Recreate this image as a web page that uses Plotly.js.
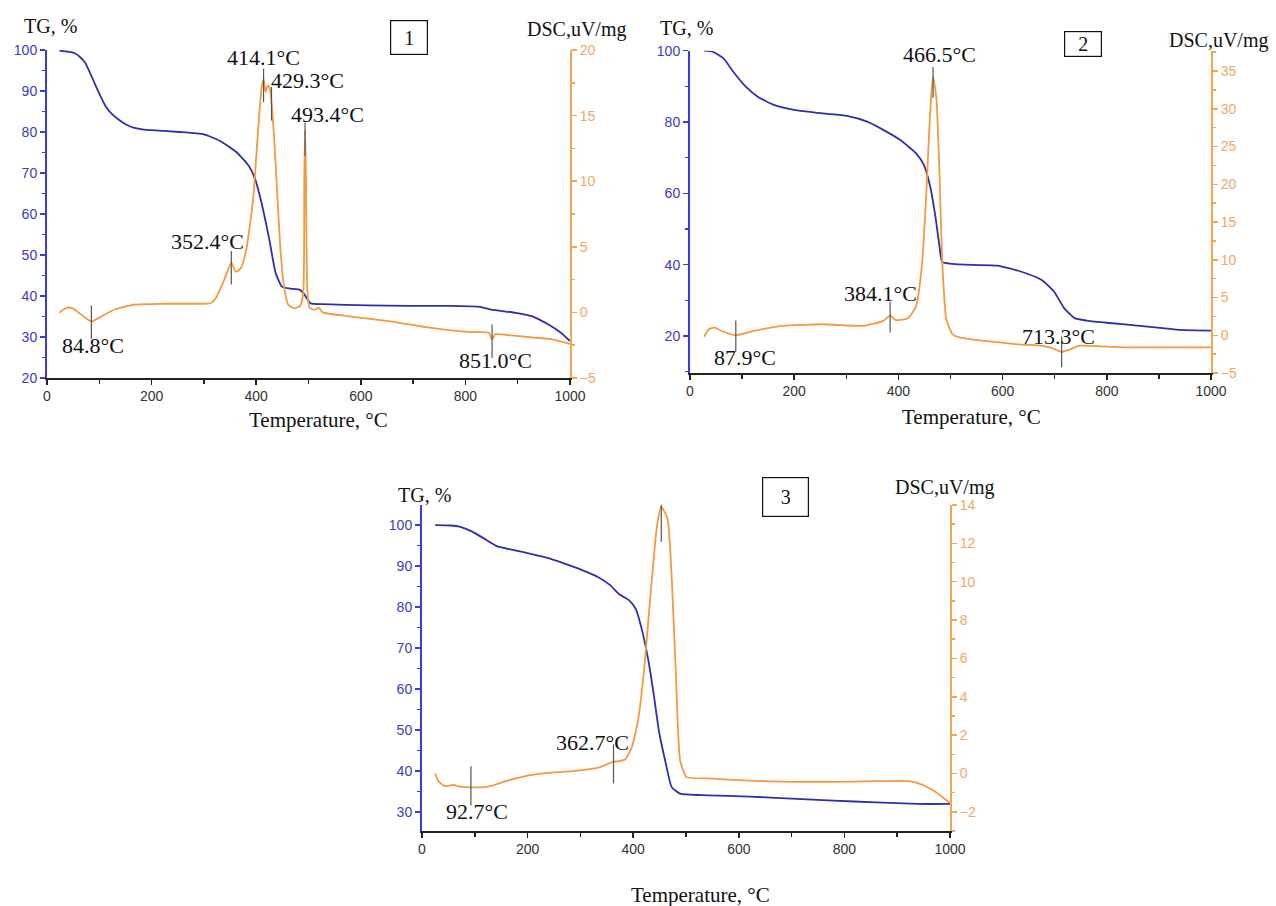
<!DOCTYPE html>
<html>
<head>
<meta charset="utf-8">
<script src="https://cdn.plot.ly/plotly-3.0.1.min.js"></script>
<style>html,body{margin:0;padding:0;background:#fff;}#chart{width:1276px;height:906px;}</style>
</head>
<body>
<div id="chart"></div>
<script>
// ---------- Sample 1 ----------
const tgTemp1 = [24, 40, 53, 63, 73, 82, 92, 102, 112, 124, 136, 150, 167, 185, 206, 253, 300, 331, 363, 386, 398, 410, 425, 437, 449, 465, 484, 492, 504, 527, 614, 692, 770, 825, 849, 896, 927, 958, 982, 1000];
const tg1 =     [99.8, 99.6, 99.2, 98.3, 96.9, 94.5, 91.6, 88.8, 86.3, 84.4, 83.1, 81.9, 81.0, 80.6, 80.4, 80.0, 79.4, 77.8, 75.0, 71.7, 68.5, 62.8, 53.8, 45.7, 42.3, 41.8, 41.5, 40.4, 38.2, 38.0, 37.7, 37.6, 37.6, 37.4, 36.7, 35.9, 35.1, 33.1, 31.1, 29.0];
const dscTemp1 = [24, 38, 49, 65, 84.8, 100, 128, 167, 222, 284, 312, 323, 339, 352.4, 361, 371, 382, 394, 400, 406, 410, 414.1, 418, 422, 426, 429.3, 434, 440, 446, 453, 461, 473, 484, 490, 492, 493.4, 495, 498, 502, 512, 520, 527, 574, 653, 731, 810, 845, 851, 857, 888, 927, 966, 1000];
const dsc1 =     [-0.02, 0.36, 0.3, -0.15, -0.7, -0.4, 0.2, 0.6, 0.66, 0.66, 0.7, 1.1, 2.5, 3.8, 3.1, 3.4, 5.0, 8.6, 11.8, 15.2, 17.0, 17.8, 16.8, 17.3, 17.1, 16.0, 13.5, 9.2, 5.0, 2.0, 0.6, 0.3, 0.5, 1.5, 10.5, 13.8, 10.5, 1.5, 0.35, 0.2, 0.36, 0.0, -0.28, -0.66, -1.16, -1.5, -1.55, -2.05, -1.67, -1.75, -1.9, -2.05, -2.4];
const peakTemp1 = [84.8, 352.4, 414.1, 429.3, 493.4, 851.0];
const peakDsc1 =  [-0.75, 3.4, 17.3, 15.9, 13.2, -2.2];

// ---------- Sample 2 ----------
const tgTemp2 = [27, 44, 64, 83, 107, 130, 161, 200, 255, 301, 340, 371, 403, 434, 449, 461, 471, 479, 484, 504, 543, 590, 636, 675, 699, 718, 738, 761, 800, 878, 940, 1000];
const tg2 =     [100, 99.7, 97.9, 94.1, 89.9, 87.1, 84.8, 83.4, 82.4, 81.7, 80.1, 77.8, 75.0, 71.2, 67.9, 61.9, 53.5, 45.0, 40.8, 40.2, 39.9, 39.7, 38.0, 35.7, 32.4, 27.8, 25.0, 24.3, 23.7, 22.6, 21.7, 21.5];
const dscTemp2 = [27, 36, 48, 60, 87.9, 122, 177, 255, 333, 371, 384.1, 395, 419, 434, 445, 453, 459, 463, 466.5, 473, 479, 484, 492, 504, 519, 566, 629, 675, 691, 713.3, 730, 745, 800, 839, 917, 1000];
const dsc2 =     [-0.2, 0.8, 1.0, 0.6, 0.0, 0.57, 1.24, 1.46, 1.24, 1.9, 2.6, 2.0, 2.3, 3.9, 9.2, 18.0, 26.9, 31.7, 34.3, 31.3, 21.1, 10.0, 2.1, 0.13, -0.3, -0.75, -1.2, -1.4, -1.6, -2.2, -1.86, -1.4, -1.5, -1.6, -1.6, -1.6];
const peakTemp2 = [87.9, 384.1, 466.5, 713.3];
const peakDsc2 =  [-0.1, 2.4, 33.5, -2.2];

// ---------- Sample 3 ----------
const tgTemp3 = [25, 55, 71, 95, 119, 143, 174, 206, 238, 270, 302, 334, 357, 373, 393, 405, 417, 429, 439, 449, 461, 473, 489, 541, 620, 700, 779, 859, 939, 1000];
const tg3 =     [100, 99.9, 99.6, 98.4, 96.6, 94.8, 93.9, 93.0, 92.0, 90.6, 89.1, 87.3, 85.3, 83.2, 81.6, 79.5, 74.2, 66.8, 58.6, 49.6, 42.3, 36.1, 34.5, 34.1, 33.8, 33.3, 32.8, 32.4, 32.0, 32.0];
const dscTemp3 = [25, 31, 43, 59, 75, 92.7, 115, 135, 150, 166, 186, 206, 238, 286, 334, 357, 362.7, 373, 385, 397, 409, 421, 433, 445, 453.2, 465, 473, 481, 489, 501, 541, 620, 700, 779, 859, 923, 947, 970, 1000];
const dsc3 =     [0.0, -0.4, -0.66, -0.6, -0.7, -0.72, -0.72, -0.62, -0.48, -0.33, -0.2, -0.09, 0.03, 0.12, 0.3, 0.56, 0.6, 0.65, 0.73, 1.34, 2.74, 5.5, 9.4, 12.9, 13.9, 13.3, 10.2, 5.0, 0.65, -0.19, -0.26, -0.37, -0.44, -0.44, -0.4, -0.4, -0.58, -0.92, -1.54];
const peakTemp3 = [92.7, 362.7, 453.2];
const peakDsc3 =  [-0.65, 0.5, 13.1];

// ---------- tick settings ----------
const xTicks = [0, 200, 400, 600, 800, 1000];

// ---------- layout helpers ----------
const W = 1276, H = 906;
const fx = p => p / W;
const fy = p => 1 - p / H;

const BLUE = '#2f2fae';
const BLUE_AX = '#3a3ae6';
const BLUE_TXT = '#3b3bc4';
const ORANGE = '#f29a3f';
const ORANGE_AX = '#f2a654';
const ORANGE_TXT = '#f0a862';
const SERIF = '"Liberation Serif", "Times New Roman", serif';
const SANS = 'Arial, "Liberation Sans", sans-serif';

function xAx(dom, anchor) {
  return {
    domain: dom, anchor: anchor, range: [0, 1000], tickvals: xTicks,
    ticks: 'outside', ticklen: 5, tickwidth: 1.5, tickcolor: '#222',
    minor: {dtick: 100, ticks: 'outside', ticklen: 4, tickcolor: '#222', tickwidth: 1.5, showgrid: false},
    showline: true, linecolor: '#222', linewidth: 1.5, showgrid: false, zeroline: false,
    tickfont: {family: SANS, size: 14, color: '#333'}, fixedrange: true
  };
}
function yLeft(dom, anchor, range, dtick, minorD) {
  return {
    domain: dom, anchor: anchor, range: range, dtick: dtick, tick0: 0,
    ticks: 'outside', ticklen: 5, tickwidth: 1.5, tickcolor: BLUE_AX,
    minor: {dtick: minorD, ticks: 'outside', ticklen: 3, tickcolor: BLUE_AX, tickwidth: 1.5, showgrid: false},
    showline: true, linecolor: BLUE_AX, linewidth: 2, showgrid: false, zeroline: false,
    tickfont: {family: SANS, size: 14, color: BLUE_TXT}, fixedrange: true
  };
}
function yRight(overlay, anchor, range, dtick, minorD) {
  return {
    overlaying: overlay, side: 'right', anchor: anchor, range: range, dtick: dtick, tick0: 0,
    ticks: 'outside', ticklen: 5, tickwidth: 1.5, tickcolor: ORANGE_AX,
    minor: {dtick: minorD, ticks: 'outside', ticklen: 3, tickcolor: ORANGE_AX, tickwidth: 1.5, showgrid: false},
    showline: true, linecolor: ORANGE_AX, linewidth: 2, showgrid: false, zeroline: false,
    tickfont: {family: SANS, size: 14, color: ORANGE_TXT}, fixedrange: true
  };
}

const lineTG = {color: BLUE, width: 1.8, shape: 'spline', smoothing: 0.5};
const lineDSC = {color: ORANGE, width: 1.8, shape: 'spline', smoothing: 0.5};

function peakMarks(xs, ys, xa, ya, size) {
  return {
    x: xs, y: ys, xaxis: xa, yaxis: ya, mode: 'markers', type: 'scatter', hoverinfo: 'skip',
    marker: {symbol: 'line-ns', size: size, color: '#555', line: {color: '#555', width: 1.2}}
  };
}

const data = [
  {x: tgTemp1, y: tg1, xaxis: 'x', yaxis: 'y', mode: 'lines', type: 'scatter', line: lineTG},
  {x: dscTemp1, y: dsc1, xaxis: 'x', yaxis: 'y2', mode: 'lines', type: 'scatter', line: lineDSC},
  peakMarks(peakTemp1, peakDsc1, 'x', 'y2', 24),
  {x: tgTemp2, y: tg2, xaxis: 'x2', yaxis: 'y3', mode: 'lines', type: 'scatter', line: lineTG},
  {x: dscTemp2, y: dsc2, xaxis: 'x2', yaxis: 'y4', mode: 'lines', type: 'scatter', line: lineDSC},
  peakMarks(peakTemp2, peakDsc2, 'x2', 'y4', 22),
  {x: tgTemp3, y: tg3, xaxis: 'x3', yaxis: 'y5', mode: 'lines', type: 'scatter', line: lineTG},
  {x: dscTemp3, y: dsc3, xaxis: 'x3', yaxis: 'y6', mode: 'lines', type: 'scatter', line: lineDSC},
  peakMarks(peakTemp3, peakDsc3, 'x3', 'y6', 28)
];

// Plot areas in pixels
const P1 = {x0: 47, x1: 570, y0: 50, y1: 378};
const P2 = {x0: 690, x1: 1211, y0: 50.7, y1: 373};
const P3 = {x0: 422, x1: 950, y0: 505, y1: 831};

const layout = {
  width: W, height: H, showlegend: false,
  margin: {l: 0, r: 0, t: 0, b: 0},
  paper_bgcolor: '#fff', plot_bgcolor: 'rgba(0,0,0,0)',
  xaxis: xAx([fx(P1.x0), fx(P1.x1)], 'y'),
  yaxis: yLeft([fy(P1.y1), fy(P1.y0)], 'x', [20, 100], 10, 5),
  yaxis2: yRight('y', 'x', [-5, 20], 5, 2.5),
  xaxis2: xAx([fx(P2.x0), fx(P2.x1)], 'y3'),
  yaxis3: yLeft([fy(P2.y1), fy(P2.y0)], 'x2', [9.6, 100], 20, 10),
  yaxis4: yRight('y3', 'x2', [-5, 37.7], 5, 2.5),
  xaxis3: xAx([fx(P3.x0), fx(P3.x1)], 'y5'),
  yaxis5: yLeft([fy(P3.y1), fy(P3.y0)], 'x3', [25.4, 104.9], 10, 5),
  yaxis6: yRight('y5', 'x3', [-3, 14], 2, 1),
  annotations: []
};

function paperText(text, px, py, size) {
  return {text: text, xref: 'paper', yref: 'paper', x: fx(px), y: fy(py), xanchor: 'center', yanchor: 'middle',
          showarrow: false, font: {family: SERIF, size: size, color: '#111'}};
}
function boxText(text, px, py, w, h) {
  return {text: text, xref: 'paper', yref: 'paper', x: fx(px), y: fy(py), xanchor: 'center', yanchor: 'middle',
          showarrow: false, width: w, height: h, bordercolor: '#111', borderwidth: 1.2, borderpad: 0,
          font: {family: SERIF, size: 20, color: '#111'}};
}
function peakLabel(temp, xr, yr, lx, ly) {
  return {text: temp.toFixed(1) + '°C', xref: xr, yref: yr, x: lx, y: ly, xanchor: 'center', yanchor: 'middle',
          showarrow: false, font: {family: SERIF, size: 22, color: '#111'}};
}

const A = layout.annotations;
// Axis titles
A.push(paperText('TG, %', 50, 26, 20));
A.push(paperText('DSC,uV/mg', 576, 30, 20));
A.push(paperText('Temperature, °C', 318, 420, 21));
A.push(paperText('TG, %', 687, 28, 20));
A.push(paperText('DSC,uV/mg', 1218, 40, 20));
A.push(paperText('Temperature, °C', 971, 417, 21));
A.push(paperText('TG, %', 424, 495, 20));
A.push(paperText('DSC,uV/mg', 944, 487, 20));
A.push(paperText('Temperature, °C', 700, 895, 21));
// Panel numbers
A.push(boxText('1', 409, 37.5, 36, 33));
A.push(boxText('2', 1083, 44.5, 36, 24));
A.push(boxText('3', 785, 497, 45, 38));

// Peak labels (label placement)
const labelPos1 = [[88, -2.56], [306, 5.37], [414, 19.4], [498, 17.7], [537, 15.1], [858, -3.7]];
const labelPos2 = [[105, -2.9], [365, 5.5], [478, 37.2], [708, -0.1]];
const labelPos3 = [[104, -1.97], [323, 1.6], [459, 15.2]];
peakTemp1.forEach((t, i) => A.push(peakLabel(t, 'x', 'y2', labelPos1[i][0], labelPos1[i][1])));
peakTemp2.forEach((t, i) => A.push(peakLabel(t, 'x2', 'y4', labelPos2[i][0], labelPos2[i][1])));
peakTemp3.forEach((t, i) => A.push(peakLabel(t, 'x3', 'y6', labelPos3[i][0], labelPos3[i][1])));

Plotly.newPlot('chart', data, layout, {displayModeBar: false, staticPlot: true});
</script>
</body>
</html>
